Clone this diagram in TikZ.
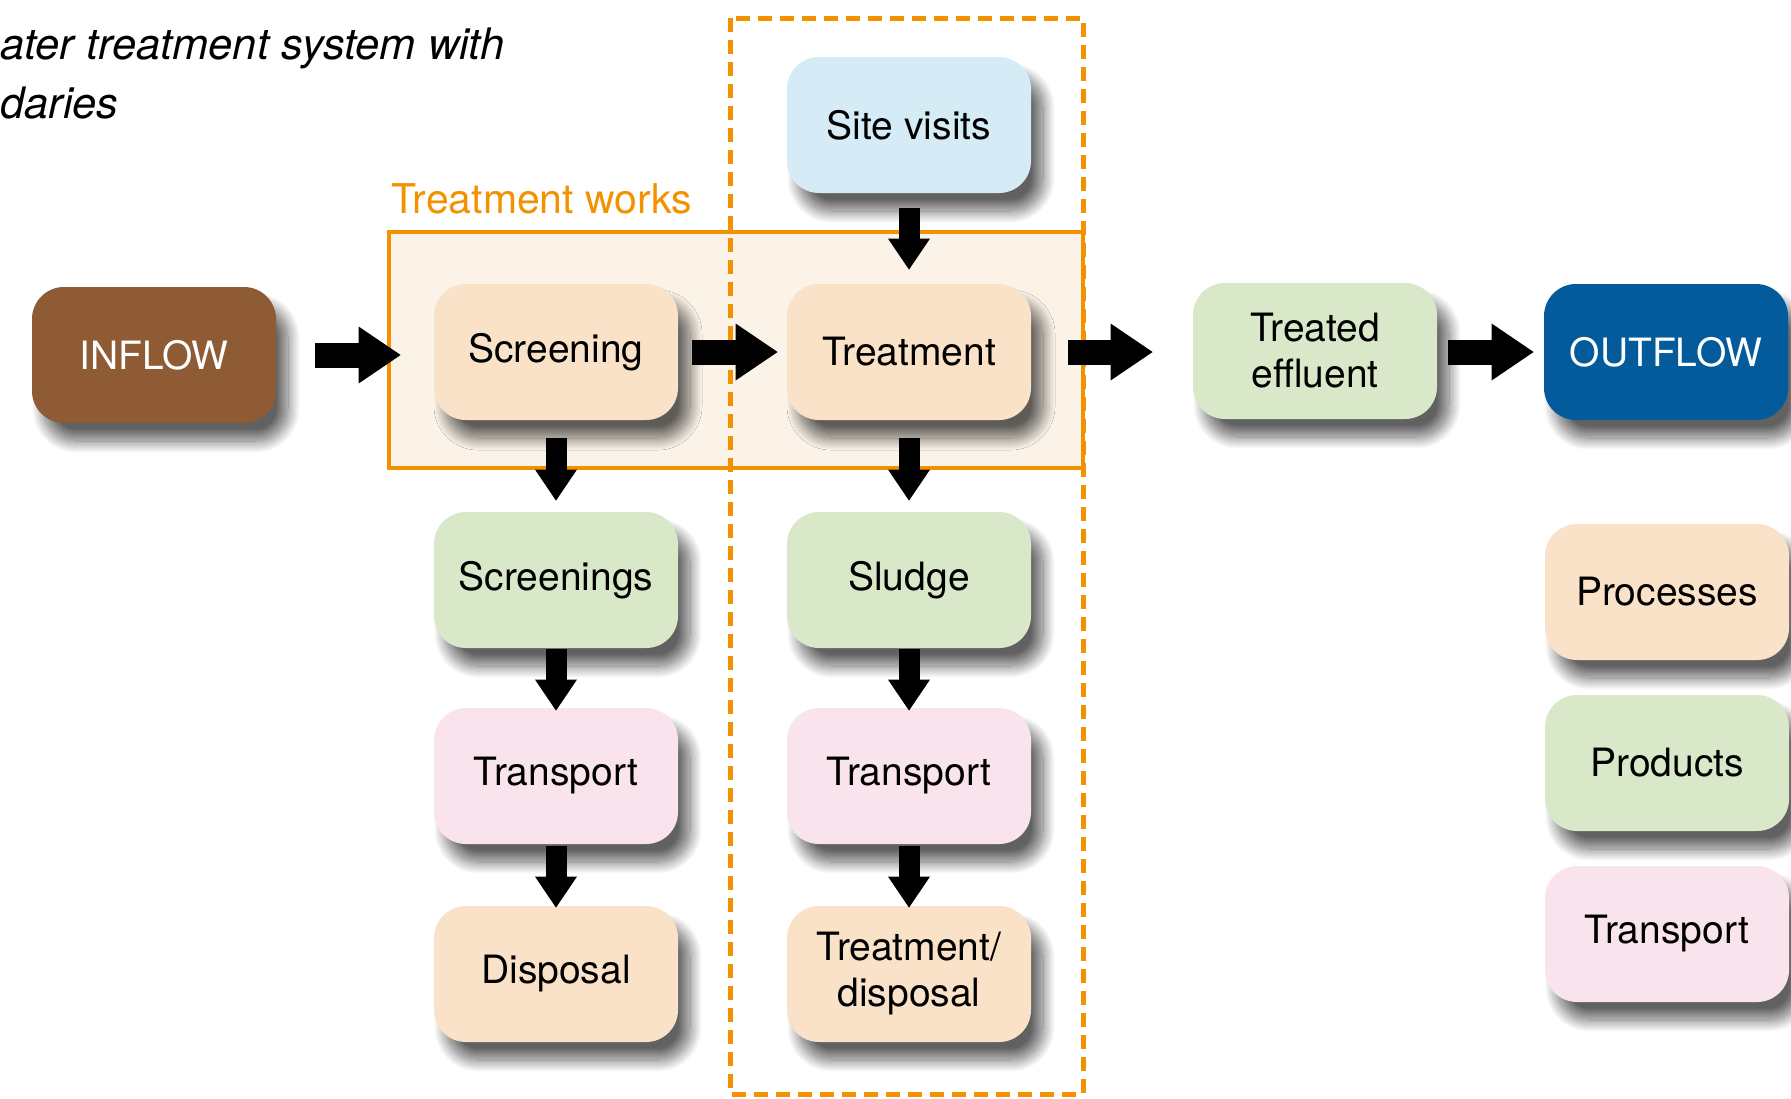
\documentclass[tikz,border=0pt]{standalone}
\usepackage{fontspec}
\setmainfont{TeX Gyre Heros}
\usetikzlibrary{arrows.meta,shadows.blur}
\definecolor{cbrown}{HTML}{8E5B34}
\definecolor{cblue}{HTML}{045B9B}
\definecolor{cpeach}{HTML}{F9E2C8}
\definecolor{cgreen}{HTML}{D9E8C9}
\definecolor{cpink}{HTML}{F9E4EE}
\definecolor{csky}{HTML}{D5EBF6}
\definecolor{corange}{HTML}{F39200}
\definecolor{ccream}{HTML}{FBF3E8}
\begin{document}
\begin{tikzpicture}[x=0.5pt,y=-0.5pt,
  box/.style={rounded corners=16pt, minimum width=122pt, minimum height=68pt,
    align=center, inner sep=0pt, font=\fontsize{19.5}{23}\selectfont,
    blur shadow={shadow xshift=6pt, shadow yshift=-9pt, shadow blur radius=6pt, shadow blur steps=24, shadow opacity=62}},
  proc/.style={box, fill=cpeach},
  prod/.style={box, fill=cgreen},
  trans/.style={box, fill=cpink},
  harrow/.style={line width=12.5pt, -{Triangle[length=21pt,width=28.5pt,line width=0pt]}},
  varrow/.style={line width=10.5pt, -{Triangle[length=15.5pt,width=21pt,line width=0pt]}},
  titletext/.style={anchor=base west, inner sep=0pt, font=\fontsize{21.7}{30}\selectfont\itshape},
]
\useasboundingbox (0,0) rectangle (1791,1098);

% title (cut at left edge)
\node[titletext] (title1) at (0,59) {ater treatment system with};
\node[titletext] (title2) at (0,118) {daries};

% treatment works boundary
\draw[corange, line width=2pt, fill=ccream] (389,232) rectangle (1083,468);
\node[anchor=base west, inner sep=0pt, text=corange, font=\fontsize{20.5}{24}\selectfont] (twlabel) at (391,213) {Treatment works};
% dashed boundary
\draw[corange, line width=2.5pt, dash pattern=on 7pt off 4pt] (730,18) rectangle (1083,1094);

% nodes
\node[box, fill=cbrown, text=white] (inflow) at (154,355) {INFLOW};
\node[proc] (screening) at (556,352) {Screening};
\node[proc] (treatment) at (909,352) {Treatment};
\node[box, fill=csky] (site) at (909,125) {Site visits};
\node[prod] (effluent) at (1315,351) {Treated\\effluent};
\node[box, fill=cblue, text=white] (outflow) at (1666,352) {OUTFLOW};
\node[prod] (screenings) at (556,580) {Screenings};
\node[prod] (sludge) at (909,580) {Sludge};
\node[trans] (transL) at (556,776) {Transport};
\node[trans] (transM) at (909,776) {Transport};
\node[proc] (disposal) at (556,974) {Disposal};
\node[proc] (tdisp) at (909,974) {Treatment/\\disposal};
% legend
\node[proc] (legproc) at (1667,592) {Processes};
\node[prod] (legprod) at (1667,763) {Products};
\node[trans] (legtrans) at (1667,934) {Transport};

% horizontal arrows
\draw[harrow, shorten <=19.5pt, shorten >=16.5pt] (inflow.east) -- (inflow.east -| screening.west);
\draw[harrow, shorten <=7pt, shorten >=4.5pt] (screening.east) -- (treatment.west);
\draw[harrow, shorten <=18.5pt, shorten >=20pt] (treatment.east) -- (treatment.east -| effluent.west);
\draw[harrow, shorten <=5.5pt, shorten >=5pt] (effluent.east |- outflow.west) -- (outflow.west);

% vertical arrows
\draw[varrow, shorten <=7.5pt, shorten >=7pt] (site.south) -- (treatment.north);
\draw[varrow, shorten <=9pt, shorten >=5.5pt] (screening.south) -- (screenings.north);
\draw[varrow, shorten <=9pt, shorten >=5.5pt] (treatment.south) -- (sludge.north);
\draw[varrow, shorten <=0.5pt, shorten >=-1.5pt] (screenings.south) -- (transL.north);
\draw[varrow, shorten <=0.5pt, shorten >=-1.5pt] (sludge.south) -- (transM.north);
\draw[varrow, shorten <=1pt, shorten >=-1pt] (transL.south) -- (disposal.north);
\draw[varrow, shorten <=1pt, shorten >=-1pt] (transM.south) -- (tdisp.north);
\end{tikzpicture}
\end{document}
